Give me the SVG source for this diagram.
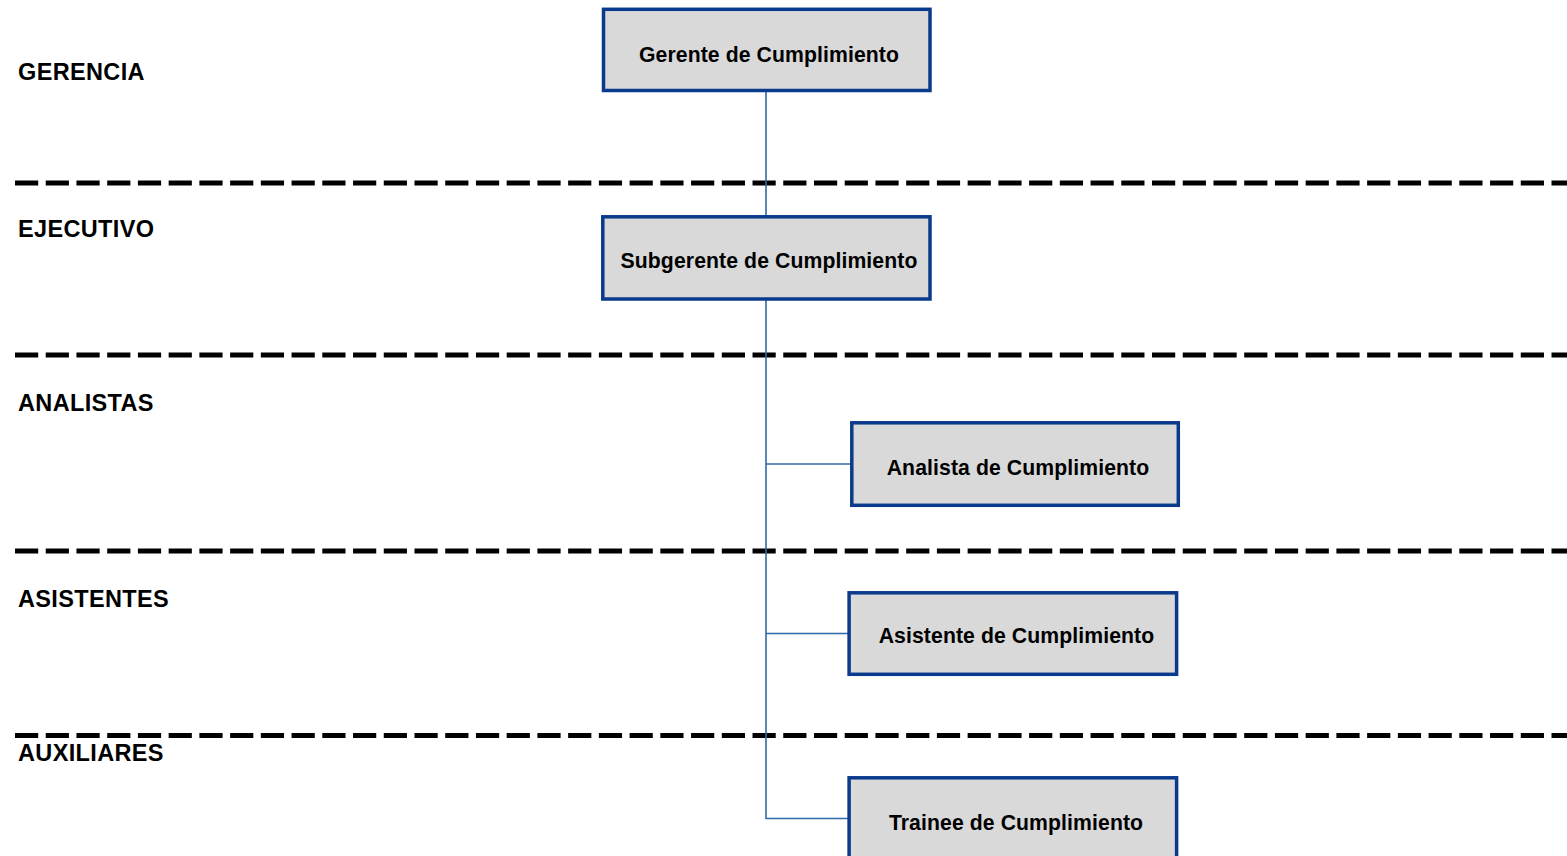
<svg xmlns="http://www.w3.org/2000/svg" width="1567" height="856" viewBox="0 0 1567 856">
<style>
.bg{fill:#ffffff}
.sep{stroke:#000;stroke-width:5;stroke-dasharray:23.2 7.53;fill:none}
.lvl{font-family:"Liberation Sans",Arial,sans-serif;font-weight:bold;font-size:23.5px;letter-spacing:0.35px;fill:#000}
.box{fill:#d9d9d9;stroke:#0a3a8c;stroke-width:3.5}
.lbl{font-family:"Liberation Sans",Arial,sans-serif;font-weight:bold;font-size:21.2px;letter-spacing:0.1px;fill:#000;text-anchor:middle}
.con{stroke:#2f6aa6;stroke-width:1.6;fill:none}
</style>
<rect class="bg" x="0" y="0" width="1567" height="856"/>
<g id="separators">
<line class="sep" x1="15" y1="183" x2="1567" y2="183"/>
<line class="sep" x1="15" y1="355" x2="1567" y2="355"/>
<line class="sep" x1="15" y1="551" x2="1567" y2="551"/>
<line class="sep" x1="15" y1="735.5" x2="1567" y2="735.5"/>
</g>
<g id="levels">
<text class="lvl" x="18" y="80">GERENCIA</text>
<text class="lvl" x="18" y="237">EJECUTIVO</text>
<text class="lvl" x="18" y="411">ANALISTAS</text>
<text class="lvl" x="18" y="606.5">ASISTENTES</text>
<text class="lvl" x="18" y="761">AUXILIARES</text>
</g>
<g id="connectors">
<line class="con" x1="766" y1="92" x2="766" y2="819"/>
<line class="con" x1="766" y1="464" x2="852" y2="464"/>
<line class="con" x1="766" y1="633.5" x2="849" y2="633.5"/>
<line class="con" x1="766" y1="818.5" x2="849" y2="818.5"/>
</g>
<g id="gerente">
<rect class="box" x="603.5" y="9.3" width="326.5" height="81.2"/>
<text class="lbl" x="769" y="61.5">Gerente de Cumplimiento</text>
</g>
<g id="subgerente">
<rect class="box" x="602.8" y="216.8" width="327.2" height="82.2"/>
<text class="lbl" x="769" y="268">Subgerente de Cumplimiento</text>
</g>
<g id="analista">
<rect class="box" x="851.8" y="422.8" width="326.5" height="82.5"/>
<text class="lbl" x="1018" y="475">Analista de Cumplimiento</text>
</g>
<g id="asistente">
<rect class="box" x="849.1" y="592.8" width="327.5" height="81.5"/>
<text class="lbl" x="1016.5" y="643">Asistente de Cumplimiento</text>
</g>
<g id="trainee">
<rect class="box" x="849.1" y="777.8" width="327.5" height="82"/>
<text class="lbl" x="1016" y="830">Trainee de Cumplimiento</text>
</g>
</svg>
